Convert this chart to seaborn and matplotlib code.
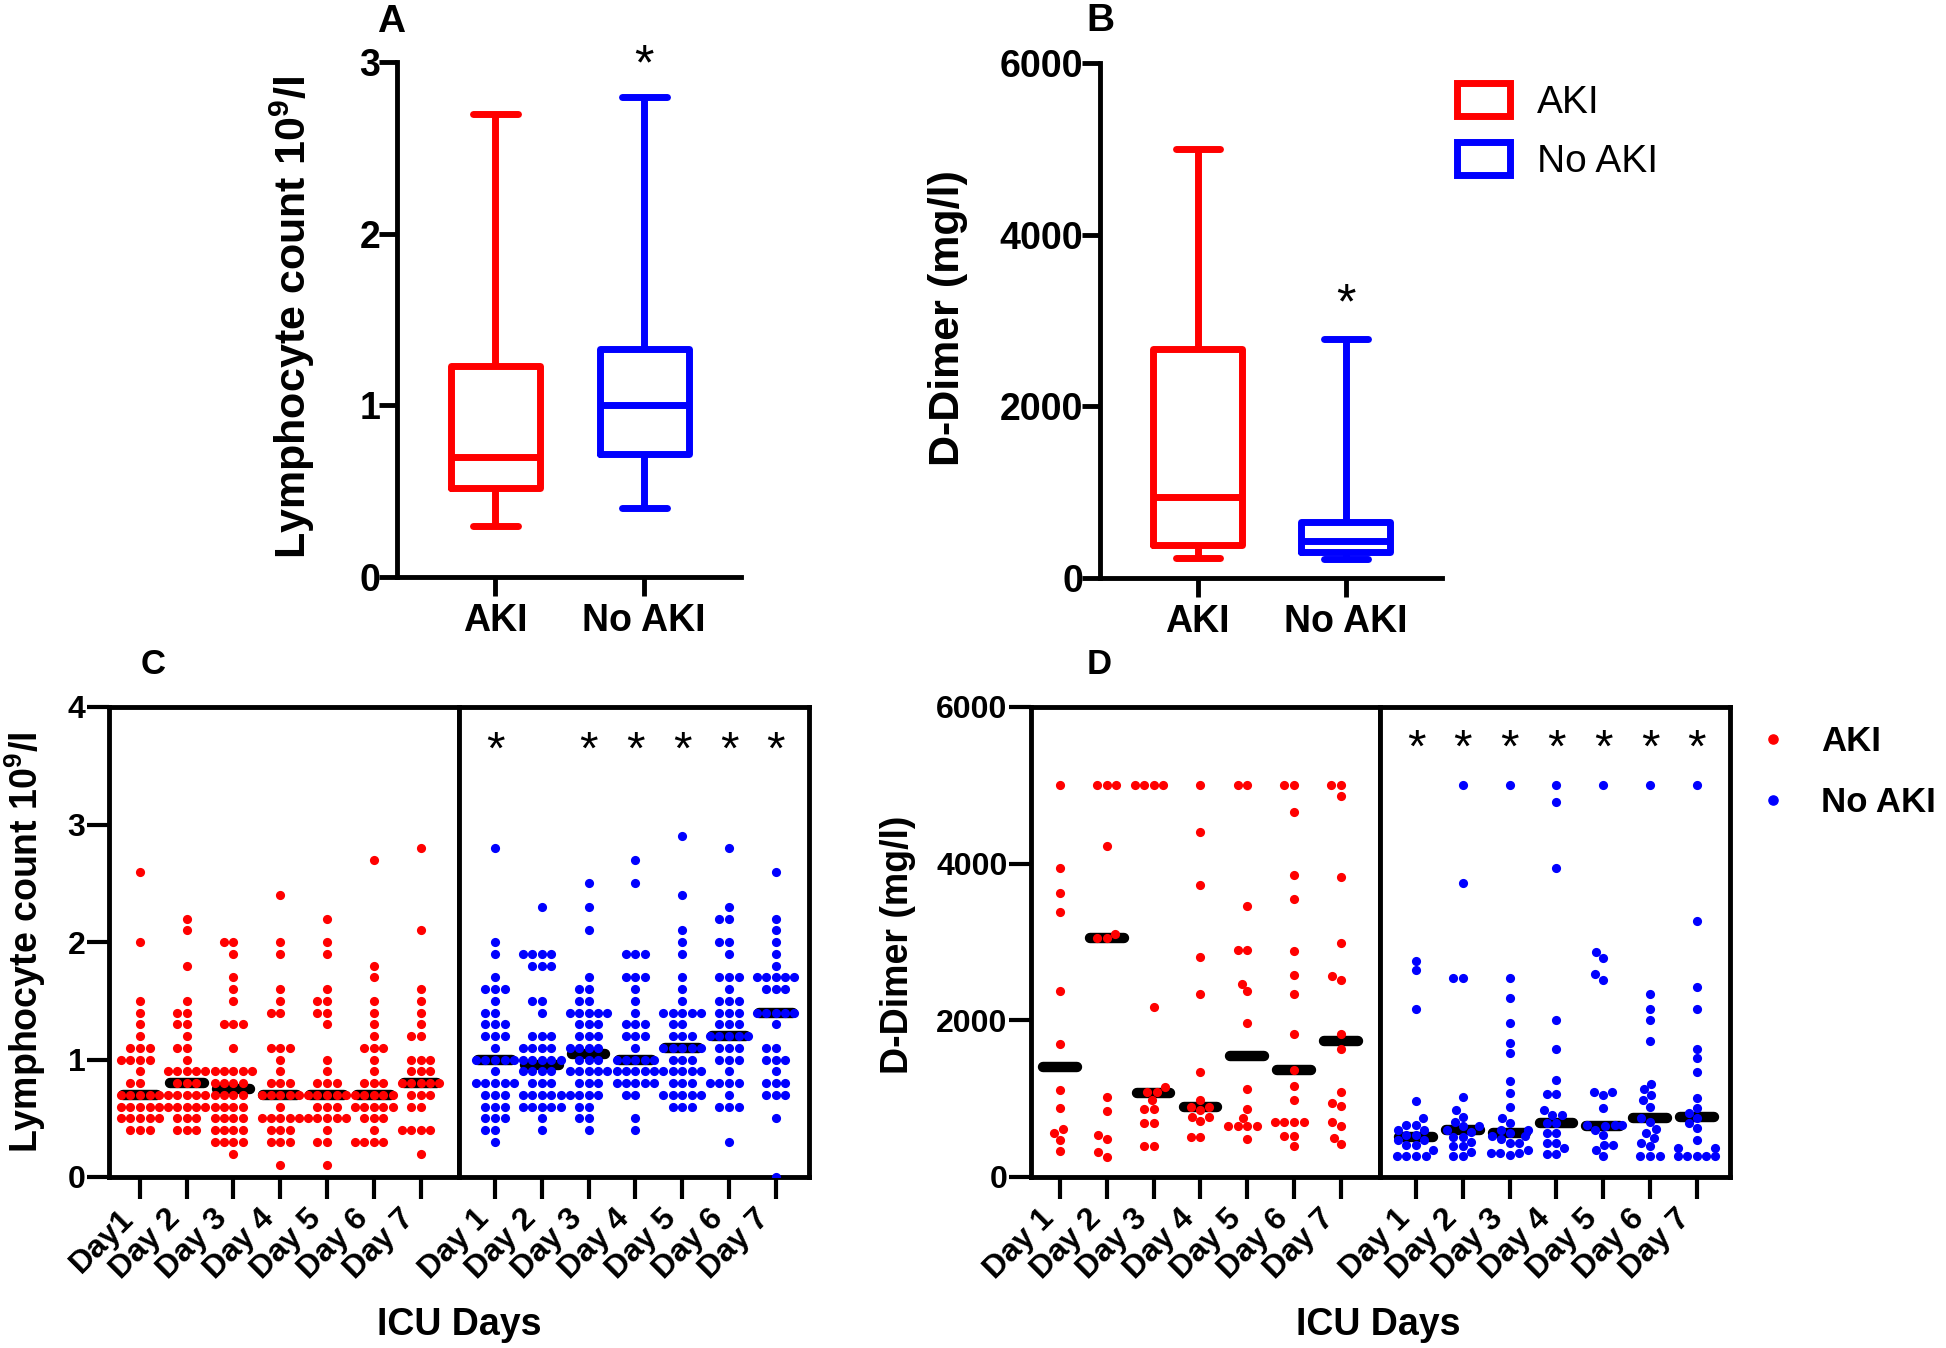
import numpy as np
import pandas as pd
import matplotlib
matplotlib.use('Agg')
import matplotlib.pyplot as plt
from matplotlib.patches import Patch
from matplotlib.lines import Line2D
import seaborn as sns

# ---------------- data ----------------
groups = ['AKI', 'No AKI']
lym_box_aki = [0.30, 0.52, 0.70, 1.23, 2.70]
lym_box_noaki = [0.40, 0.72, 1.00, 1.33, 2.80]
dd_box_aki = [230, 380, 940, 2670, 5000]
dd_box_noaki = [220, 300, 430, 650, 2780]

day_keys = ['1', '2', '3', '4', '5', '6', '7']
c_aki_labels = ['Day1', 'Day 2', 'Day 3', 'Day 4', 'Day 5', 'Day 6', 'Day 7']
day_labels = ['Day 1', 'Day 2', 'Day 3', 'Day 4', 'Day 5', 'Day 6', 'Day 7']

# Panel C: lymphocyte count per ICU day
lym_aki = [
    [2.6, 2.0, 1.5, 1.4, 1.3, 1.2, 1.1, 1.1, 1.1, 1.0, 1.0, 1.0, 1.0, 0.9, 0.8, 0.8, 0.7, 0.7, 0.7, 0.7, 0.7,
     0.6, 0.6, 0.6, 0.6, 0.6, 0.5, 0.5, 0.5, 0.5, 0.5, 0.4, 0.4, 0.4],
    [2.2, 2.1, 1.8, 1.5, 1.4, 1.4, 1.3, 1.3, 1.2, 1.1, 1.1, 1.0, 0.9, 0.9, 0.9, 0.9, 0.9, 0.8, 0.8, 0.8,
     0.7, 0.7, 0.7, 0.7, 0.7, 0.6, 0.6, 0.6, 0.6, 0.6, 0.5, 0.5, 0.5, 0.4, 0.4, 0.4],
    [2.0, 2.0, 1.9, 1.7, 1.6, 1.5, 1.3, 1.3, 1.3, 1.1, 0.9, 0.9, 0.9, 0.9, 0.9, 0.8, 0.8, 0.8, 0.8,
     0.7, 0.7, 0.7, 0.7, 0.6, 0.6, 0.6, 0.6, 0.5, 0.5, 0.5, 0.5, 0.4, 0.4, 0.4, 0.4, 0.3, 0.3, 0.3, 0.3, 0.2],
    [2.4, 2.0, 1.9, 1.6, 1.5, 1.4, 1.4, 1.1, 1.1, 1.1, 1.0, 0.9, 0.8, 0.8, 0.8, 0.7, 0.7, 0.7, 0.7, 0.7,
     0.6, 0.5, 0.5, 0.5, 0.5, 0.5, 0.4, 0.4, 0.4, 0.3, 0.3, 0.3, 0.1],
    [2.2, 2.0, 1.9, 1.6, 1.5, 1.5, 1.4, 1.4, 1.3, 1.0, 0.9, 0.8, 0.8, 0.8, 0.7, 0.7, 0.7, 0.7, 0.7,
     0.6, 0.6, 0.6, 0.5, 0.5, 0.5, 0.5, 0.5, 0.4, 0.3, 0.3, 0.1],
    [2.7, 1.8, 1.7, 1.5, 1.4, 1.3, 1.2, 1.1, 1.1, 1.1, 1.0, 0.9, 0.8, 0.8, 0.8, 0.7, 0.7, 0.7, 0.7, 0.7,
     0.6, 0.6, 0.6, 0.6, 0.6, 0.5, 0.5, 0.5, 0.4, 0.3, 0.3, 0.3, 0.3],
    [2.8, 2.1, 1.6, 1.5, 1.4, 1.3, 1.2, 1.2, 1.0, 1.0, 1.0, 0.9, 0.9, 0.9, 0.8, 0.8, 0.8, 0.8, 0.8,
     0.7, 0.7, 0.7, 0.6, 0.6, 0.4, 0.4, 0.4, 0.4, 0.2],
]
lym_noaki = [
    [2.8, 2.0, 1.9, 1.7, 1.6, 1.6, 1.6, 1.5, 1.4, 1.4, 1.3, 1.3, 1.3, 1.2, 1.2, 1.2, 1.1, 1.0, 1.0, 1.0,
     1.0, 1.0, 0.9, 0.8, 0.8, 0.8, 0.8, 0.8, 0.7, 0.7, 0.7, 0.6, 0.6, 0.6, 0.5, 0.5, 0.5, 0.4, 0.4, 0.3],
    [2.3, 1.9, 1.9, 1.9, 1.9, 1.8, 1.8, 1.8, 1.5, 1.5, 1.4, 1.2, 1.2, 1.2, 1.1, 1.1, 1.1, 1.1, 1.0, 1.0,
     1.0, 1.0, 1.0, 0.9, 0.9, 0.9, 0.9, 0.8, 0.8, 0.8, 0.7, 0.7, 0.7, 0.7, 0.7, 0.6, 0.6, 0.6, 0.6, 0.6,
     0.5, 0.4],
    [2.5, 2.3, 2.1, 1.7, 1.6, 1.6, 1.5, 1.5, 1.4, 1.4, 1.4, 1.4, 1.4, 1.3, 1.3, 1.3, 1.2, 1.2, 1.2, 1.1,
     1.1, 1.1, 1.1, 1.0, 1.0, 1.0, 0.9, 0.9, 0.9, 0.9, 0.9, 0.8, 0.8, 0.8, 0.7, 0.7, 0.7, 0.7, 0.6, 0.6,
     0.5, 0.5, 0.4],
    [2.7, 2.5, 1.9, 1.9, 1.9, 1.7, 1.7, 1.7, 1.6, 1.5, 1.4, 1.3, 1.3, 1.3, 1.2, 1.2, 1.2, 1.1, 1.0, 1.0,
     1.0, 1.0, 1.0, 0.9, 0.9, 0.9, 0.9, 0.9, 0.8, 0.8, 0.8, 0.8, 0.8, 0.7, 0.7, 0.5, 0.4],
    [2.9, 2.4, 2.1, 2.0, 1.9, 1.7, 1.6, 1.5, 1.4, 1.4, 1.4, 1.4, 1.4, 1.3, 1.3, 1.2, 1.2, 1.2, 1.1, 1.1,
     1.1, 1.1, 1.1, 1.0, 1.0, 1.0, 0.9, 0.9, 0.9, 0.9, 0.9, 0.8, 0.8, 0.8, 0.7, 0.7, 0.7, 0.7, 0.7, 0.6,
     0.6, 0.6],
    [2.8, 2.3, 2.2, 2.2, 2.0, 2.0, 1.9, 1.7, 1.7, 1.7, 1.6, 1.5, 1.5, 1.5, 1.4, 1.4, 1.4, 1.3, 1.3, 1.3,
     1.2, 1.2, 1.2, 1.2, 1.2, 1.1, 1.1, 1.1, 1.0, 1.0, 1.0, 0.9, 0.8, 0.8, 0.8, 0.8, 0.7, 0.6, 0.6, 0.6,
     0.3],
    [2.6, 2.2, 2.1, 2.0, 1.9, 1.8, 1.7, 1.7, 1.7, 1.7, 1.7, 1.6, 1.6, 1.6, 1.4, 1.4, 1.4, 1.4, 1.4, 1.3,
     1.1, 1.1, 1.0, 1.0, 1.0, 0.9, 0.8, 0.8, 0.8, 0.7, 0.7, 0.7, 0.5, 0.0],
]
lym_med_aki = [0.7, 0.8, 0.75, 0.7, 0.7, 0.7, 0.8]
lym_med_noaki = [1.0, 0.95, 1.05, 1.0, 1.1, 1.2, 1.4]
lym_star_days = ['1', '3', '4', '5', '6', '7']

# Panel D: D-dimer per ICU day
dd_aki = [
    [5000, 3950, 3620, 3380, 2370, 1700, 1110, 885, 610, 560, 470, 330],
    [5000, 5000, 5000, 4220, 3050, 3050, 3100, 1025, 840, 530, 480, 315, 260],
    [5000, 5000, 5000, 5000, 2170, 1150, 1080, 1080, 980, 865, 865, 695, 695, 390, 390],
    [5000, 4410, 3730, 2810, 2340, 1340, 980, 900, 900, 855, 770, 770, 720, 505, 505],
    [5000, 5000, 3460, 2900, 2900, 2470, 2370, 1960, 1120, 865, 750, 645, 645, 645, 645, 480],
    [5000, 5000, 4660, 3850, 3550, 2890, 2580, 2340, 1830, 1370, 1160, 985, 705, 705, 705, 705, 525, 525, 390],
    [5000, 5000, 4860, 3830, 2990, 2570, 2510, 1830, 1640, 1080, 940, 905, 705, 655, 495, 415],
]
dd_noaki = [
    [2760, 2640, 2140, 970, 750, 665, 665, 600, 600, 535, 535, 470, 470, 410, 410, 345, 270, 270, 270, 270],
    [5000, 3750, 2545, 2545, 1025, 855, 770, 705, 645, 645, 600, 580, 515, 515, 450, 390, 390, 325, 270, 270],
    [5000, 2545, 2290, 1960, 1715, 1580, 1220, 1070, 900, 750, 685, 600, 600, 560, 525, 525, 480, 430, 430,
     350, 310, 310, 310, 280],
    [5000, 4790, 3950, 2000, 1640, 1240, 1055, 1055, 855, 790, 790, 685, 685, 560, 560, 430, 430, 365, 295, 295],
    [5000, 2870, 2790, 2590, 2520, 1080, 1080, 1050, 885, 665, 665, 665, 650, 600, 535, 410, 410, 345, 270],
    [5000, 2340, 2150, 2010, 1740, 1190, 1120, 1050, 985, 900, 750, 705, 610, 560, 495, 430, 390, 270, 270, 270],
    [5000, 3270, 2420, 2150, 1640, 1515, 1335, 1005, 875, 815, 750, 685, 620, 470, 365, 365, 270, 270, 270,
     270, 270],
]
dd_med_aki = [1400, 3050, 1070, 900, 1540, 1370, 1740]
dd_med_noaki = [505, 600, 560, 685, 650, 750, 770]
dd_star_days = ['1', '2', '3', '4', '5', '6', '7']

RED = '#ff0000'
BLUE = '#0000ff'

# ---------------- style ----------------
sns.set_theme(style='ticks', rc={
    'axes.edgecolor': 'black', 'axes.linewidth': 3.5,
    'xtick.color': 'black', 'ytick.color': 'black',
    'xtick.major.width': 3.0, 'ytick.major.width': 3.0,
    'text.color': 'black', 'axes.labelcolor': 'black',
    'axes.facecolor': 'white', 'figure.facecolor': 'white',
})
plt.rcParams['font.family'] = ['Liberation Sans', 'DejaVu Sans']
plt.rcParams['font.weight'] = 'bold'
plt.rcParams['mathtext.fontset'] = 'custom'
plt.rcParams['mathtext.rm'] = 'Liberation Sans:bold'
plt.rcParams['mathtext.bf'] = 'Liberation Sans:bold'
plt.rcParams['mathtext.it'] = 'Liberation Sans:bold'

W, H = 1946, 1348
fig = plt.figure(figsize=(W / 100, H / 100), dpi=100)


def ax_px(x0, x1, ytop, ybot):
    return fig.add_axes([x0 / W, 1 - ybot / H, (x1 - x0) / W, (ybot - ytop) / H])


def fig_text(x, y, s, **kw):
    fig.text(x / W, 1 - y / H, s, **kw)


# ---------------- panels A and B ----------------
def box_panel(ax, aki, noaki, ylim, yticks, star_y):
    df = pd.DataFrame({'group': [groups[0]] * len(aki) + [groups[1]] * len(noaki),
                       'value': aki + noaki})
    sns.boxplot(data=df, x='group', y='value', hue='group', order=groups,
                palette={groups[0]: RED, groups[1]: BLUE}, fill=False, width=0.6,
                linewidth=5, whis=(0, 100), legend=False, ax=ax,
                capprops={'solid_capstyle': 'round'},
                whiskerprops={'solid_capstyle': 'butt'})
    ax.set_xlim(-0.66, 1.65)
    ax.set_ylim(*ylim)
    ax.set_yticks(yticks)
    ax.set_xlabel('')
    ax.set_ylabel('')
    sns.despine(ax=ax)
    ax.tick_params(axis='y', length=13, width=3.5, pad=-1, labelsize=27)
    ax.tick_params(axis='x', length=14, width=3.5, pad=5, labelsize=27)
    ax.text(1, star_y, '*', ha='center', va='center', fontsize=36,
            fontweight='normal', clip_on=False)


axA = ax_px(397, 741, 62.5, 577)
box_panel(axA, lym_box_aki, lym_box_noaki, (0, 3), [0, 1, 2, 3], 2.98)
axB = ax_px(1100, 1442, 63, 578)
box_panel(axB, dd_box_aki, dd_box_noaki, (0, 6000), [0, 2000, 4000, 6000], 3180)

leg_handles = [Patch(facecolor='white', edgecolor=RED, linewidth=5, label='AKI'),
               Patch(facecolor='white', edgecolor=BLUE, linewidth=5, label='No AKI')]
fig.legend(handles=leg_handles, loc='upper left', bbox_to_anchor=(1438 / W, 1 - 64 / H),
           frameon=False, prop={'size': 28, 'weight': 'normal'}, handlelength=1.35,
           handleheight=0.9, handletextpad=0.7, labelspacing=0.55, borderpad=0)

fig_text(292, 317, r'Lymphocyte count 10$^{9}$/l', rotation=90, ha='center', va='center',
         fontsize=31, fontweight='bold')
fig_text(948, 318, 'D-Dimer (mg/l)', rotation=90, ha='center', va='center',
         fontsize=31, fontweight='bold')
fig_text(391, 22, 'A', ha='center', va='center', fontsize=28, fontweight='bold')
fig_text(1100, 21, 'B', ha='center', va='center', fontsize=28, fontweight='bold')


# ---------------- panels C and D ----------------
def long_df(day_lists):
    rows = []
    for key, vals in zip(day_keys, day_lists):
        for v in vals:
            rows.append((key, v))
    return pd.DataFrame(rows, columns=['day', 'value'])


def dot_panel(ax, day_lists, meds, color, xlim, ylim, labels, left=True,
              star_days=None, star_y=None):
    df = long_df(day_lists)
    sns.swarmplot(data=df, x='day', y='value', order=day_keys, color=color, size=6.6,
                  linewidth=0, warn_thresh=1, ax=ax, zorder=3)
    pos = np.arange(len(day_keys))
    ax.hlines(meds, pos - 0.36, pos + 0.36, colors='black', linewidth=7.5,
              capstyle='round', zorder=2)
    ax.set_xlim(*xlim)
    ax.set_ylim(*ylim)
    ax.set_xticks(pos)
    ax.set_xticklabels(labels, rotation=45, ha='right', fontsize=23, fontweight='bold')
    ax.set_xlabel('')
    ax.set_ylabel('')
    ax.tick_params(axis='x', length=16, width=3.0, pad=3)
    for s in ax.spines.values():
        s.set_visible(True)
        s.set_linewidth(3.5)
    if left:
        ax.tick_params(axis='y', length=16, width=3.0, pad=1, labelsize=23)
    else:
        # keep the left spine as the group divider, without ticks
        ax.tick_params(axis='y', left=False, labelleft=False)
    if star_days:
        for d in star_days:
            ax.text(day_keys.index(d), star_y, '*', ha='center', va='center',
                    fontsize=34, fontweight='normal')


axC1 = ax_px(109, 459, 707, 1177)
axC2 = ax_px(459, 809, 707, 1177)
dot_panel(axC1, lym_aki, lym_med_aki, RED, (-0.66, 6.82), (0, 4), c_aki_labels)
axC1.set_yticks([0, 1, 2, 3, 4])
dot_panel(axC2, lym_noaki, lym_med_noaki, BLUE, (-0.77, 6.71), (0, 4), day_labels,
          left=False, star_days=lym_star_days, star_y=3.62)

axD1 = ax_px(1031, 1380, 707, 1177)
axD2 = ax_px(1380, 1730, 707, 1177)
dot_panel(axD1, dd_aki, dd_med_aki, RED, (-0.62, 6.84), (0, 6000), day_labels)
axD1.set_yticks([0, 2000, 4000, 6000])
dot_panel(axD2, dd_noaki, dd_med_noaki, BLUE, (-0.77, 6.71), (0, 6000), day_labels,
          left=False, star_days=dd_star_days, star_y=5450)

dot_handles = [Line2D([], [], marker='o', linestyle='', color=RED, markersize=6.6, label='AKI'),
               Line2D([], [], marker='o', linestyle='', color=BLUE, markersize=6.6, label='No AKI')]
fig.legend(handles=dot_handles, loc='upper left', bbox_to_anchor=(1738 / W, 1 - 708 / H),
           frameon=False, prop={'size': 25, 'weight': 'bold'}, handlelength=1.0,
           handletextpad=0.9, labelspacing=0.8, borderpad=0)

fig_text(25, 942, r'Lymphocyte count 10$^{9}$/l', rotation=90, ha='center', va='center',
         fontsize=27, fontweight='bold')
fig_text(898, 945, 'D-Dimer (mg/l)', rotation=90, ha='center', va='center',
         fontsize=27, fontweight='bold')
fig_text(459, 1325, 'ICU Days', ha='center', va='center', fontsize=27, fontweight='bold')
fig_text(1378, 1325, 'ICU Days', ha='center', va='center', fontsize=27, fontweight='bold')
fig_text(153, 664, 'C', ha='center', va='center', fontsize=25, fontweight='bold')
fig_text(1099, 664, 'D', ha='center', va='center', fontsize=25, fontweight='bold')

fig.savefig('out.png', dpi=100)
